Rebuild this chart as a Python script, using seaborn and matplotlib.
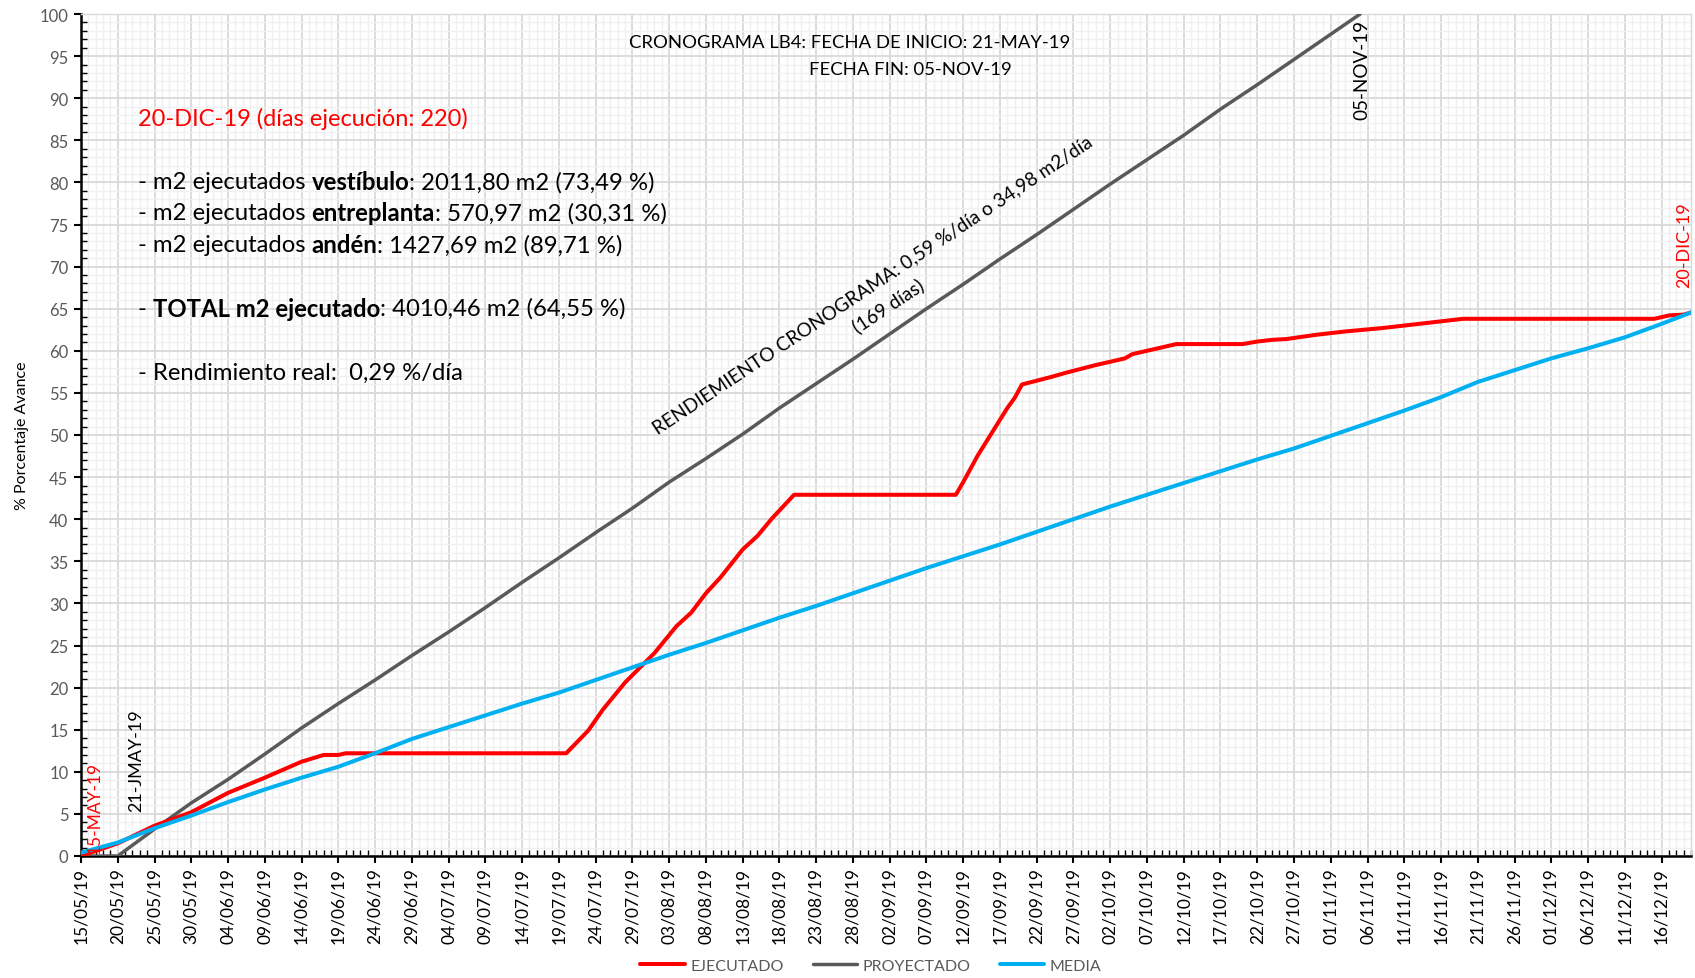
import matplotlib
matplotlib.use("Agg")
import numpy as np
import pandas as pd
import matplotlib.pyplot as plt
import matplotlib.dates as mdates
from matplotlib.lines import Line2D
from matplotlib.ticker import MultipleLocator
import seaborn as sns

# Fecha de referencia del eje (día 0)
inicio = pd.Timestamp("2019-05-15")
dias_totales = 219

# Avance ejecutado (% acumulado) por día desde el 15/05/19
dias_ejecutado = [0, 5, 10, 15, 20, 25, 30, 33, 35, 36, 66, 69, 71, 74, 78, 81, 83, 85, 87,
                  90, 92, 94, 97, 119, 120, 122, 123, 126, 127, 128, 132, 134, 138, 142, 143,
                  147, 149, 158, 160, 162, 164, 168, 172, 177, 181, 185, 188, 214, 216, 218, 219]
ejecutado = [0.0, 1.5, 3.6, 5.2, 7.5, 9.3, 11.2, 12.0, 12.0, 12.2, 12.2, 14.9, 17.4, 20.6, 24.1,
             27.3, 28.9, 31.2, 33.1, 36.4, 38.0, 40.1, 42.9, 42.9, 44.4, 47.6, 49.0, 53.2, 54.4,
             56.0, 56.9, 57.4, 58.3, 59.1, 59.6, 60.4, 60.8, 60.8, 61.1, 61.3, 61.4, 61.9, 62.3,
             62.7, 63.1, 63.5, 63.8, 63.8, 64.2, 64.3, 64.55]

# Avance proyectado según cronograma (21-MAY-19 a 05-NOV-19)
dias_proyectado = [0, 5, 10, 15, 20, 25, 30, 35, 40, 45, 50, 55, 60, 65, 70, 75, 80, 85, 90,
                   95, 100, 105, 110, 115, 120, 125, 130, 135, 140, 145, 150, 155, 160, 165,
                   170, 174]
proyectado = [0.0, 0.0, 3.2, 6.3, 9.1, 12.1, 15.2, 18.1, 20.9, 23.8, 26.6, 29.5, 32.5, 35.4,
              38.4, 41.3, 44.4, 47.2, 50.1, 53.2, 56.1, 59.0, 62.0, 65.0, 67.9, 70.9, 73.8,
              76.8, 79.8, 82.7, 85.6, 88.7, 91.6, 94.6, 97.6, 100.0]

# Rendimiento medio real
dias_media = [0, 5, 10, 15, 20, 25, 30, 35, 40, 45, 50, 55, 60, 65, 70, 75, 80, 85, 90, 95,
              100, 105, 110, 115, 120, 125, 130, 135, 140, 145, 150, 155, 160, 165, 170, 175,
              180, 185, 190, 195, 200, 205, 210, 215, 219]
media = [0.4, 1.6, 3.3, 4.8, 6.4, 7.9, 9.3, 10.6, 12.2, 13.9, 15.3, 16.7, 18.1, 19.4, 20.9,
         22.4, 23.9, 25.3, 26.8, 28.3, 29.7, 31.2, 32.7, 34.2, 35.6, 37.0, 38.5, 40.0, 41.5,
         42.9, 44.3, 45.7, 47.1, 48.4, 49.9, 51.4, 52.9, 54.5, 56.3, 57.7, 59.1, 60.3, 61.6,
         63.2, 64.55]

series = ["EJECUTADO", "PROYECTADO", "MEDIA"]
colores = {"EJECUTADO": "#ff0000", "PROYECTADO": "#595959", "MEDIA": "#00b0f0"}
grosores = {"EJECUTADO": 2.9, "PROYECTADO": 2.5, "MEDIA": 2.9}
datos = {"EJECUTADO": (dias_ejecutado, ejecutado),
         "PROYECTADO": (dias_proyectado, proyectado),
         "MEDIA": (dias_media, media)}

df = pd.concat([
    pd.DataFrame({"fecha": inicio + pd.to_timedelta(d, unit="D"), "avance": v, "serie": s})
    for s, (d, v) in datos.items()
], ignore_index=True)

sns.set_theme(style="white")
plt.rcParams["font.family"] = ["Lato", "DejaVu Sans"]

W, H = 1695, 979
fig = plt.figure(figsize=(W / 100, H / 100), dpi=100)
ax = fig.add_axes([81 / W, (H - 857) / H, 1610 / W, 842 / H])

for s in ["PROYECTADO", "EJECUTADO", "MEDIA"]:
    sns.lineplot(data=df[df["serie"] == s], x="fecha", y="avance", color=colores[s],
                 linewidth=grosores[s], estimator=None, ax=ax, legend=False,
                 solid_joinstyle="round", zorder=3)

# Ejes
ax.set_xlim(inicio, inicio + pd.Timedelta(days=dias_totales))
ax.set_ylim(0, 100)
ticks_x = [inicio + pd.Timedelta(days=d) for d in range(0, dias_totales, 5)]
ax.set_xticks(ticks_x)
ax.xaxis.set_major_formatter(mdates.DateFormatter("%d/%m/%y"))
ax.xaxis.set_minor_locator(MultipleLocator(1))
ax.set_yticks(range(0, 101, 5))
ax.yaxis.set_minor_locator(MultipleLocator(1))

ax.grid(which="major", color="#d9d9d9", linewidth=1.3)
ax.grid(which="minor", color="#f0f0f0", linewidth=1.0)
ax.set_axisbelow(True)

for lado in ["left", "bottom"]:
    ax.spines[lado].set_color("black")
    ax.spines[lado].set_linewidth(1.8)
for lado in ["top", "right"]:
    ax.spines[lado].set_color("#d9d9d9")
    ax.spines[lado].set_linewidth(1.0)

ax.tick_params(axis="both", which="major", direction="out", length=5, width=1.5,
               color="black", bottom=True, left=True)
ax.tick_params(axis="both", which="minor", direction="in", length=4, width=1.0,
               color="black", bottom=True, left=True)
ax.tick_params(axis="x", which="major", labelrotation=90, labelsize=12.5,
               labelcolor="black", pad=3)
ax.tick_params(axis="y", which="major", labelsize=12, labelcolor="#595959", pad=4)

ax.set_xlabel("")
ax.set_ylabel("% Porcentaje Avance", fontsize=11.5, color="black", labelpad=8)


def texto_mixto(x, y, partes, size, color="black"):
    t = ax.text(x, y, partes[0][0], transform=ax.transAxes, fontsize=size,
                fontweight=partes[0][1], color=color, va="center", ha="left")
    for s, w in partes[1:]:
        t = ax.annotate(s, xy=(1, 0.5), xycoords=t, va="center", ha="left",
                        fontsize=size, fontweight=w, color=color)


# Resumen de ejecución
ax.text(0.0354, 0.8765, "20-DIC-19 (días ejecución: 220)", transform=ax.transAxes,
        fontsize=17, color="#ff0000", va="center", ha="left")
texto_mixto(0.0354, 0.8005, [("- m2 ejecutados ", "normal"), ("vestíbulo", "bold"),
                             (": 2011,80 m2 (73,49 %)", "normal")], 17.2)
texto_mixto(0.0354, 0.7637, [("- m2 ejecutados ", "normal"), ("entreplanta", "bold"),
                             (": 570,97 m2 (30,31 %)", "normal")], 17.2)
texto_mixto(0.0354, 0.7257, [("- m2 ejecutados ", "normal"), ("andén", "bold"),
                             (": 1427,69 m2 (89,71 %)", "normal")], 17.2)
texto_mixto(0.0354, 0.6508, [("- ", "normal"), ("TOTAL m2 ejecutado", "bold"),
                             (": 4010,46 m2 (64,55 %)", "normal")], 17.2)
ax.text(0.0354, 0.5748, "- Rendimiento real:  0,29 %/día", transform=ax.transAxes,
        fontsize=17.2, color="black", va="center", ha="left")

# Cronograma
ax.text(0.4776, 0.9667, "CRONOGRAMA LB4: FECHA DE INICIO: 21-MAY-19", transform=ax.transAxes,
        fontsize=13.3, color="black", va="center", ha="center")
ax.text(0.5149, 0.9347, "FECHA FIN: 05-NOV-19", transform=ax.transAxes,
        fontsize=13.3, color="black", va="center", ha="center")
ax.text(0.4919, 0.6793, "RENDIEMIENTO CRONOGRAMA: 0,59 %/día o 34,98 m2/día",
        transform=ax.transAxes, fontsize=13.8, rotation=33.6, rotation_mode="anchor",
        va="center", ha="center", color="black")
ax.text(0.5012, 0.6544, "(169 días)", transform=ax.transAxes, fontsize=13.8, rotation=33.6,
        rotation_mode="anchor", va="center", ha="center", color="black")

# Marcas de fechas clave
ax.text(0.7957, 0.9347, "05-NOV-19", transform=ax.transAxes, fontsize=13.6, rotation=90,
        va="center", ha="center", color="black")
ax.text(0.9957, 0.7268, "20-DIC-19", transform=ax.transAxes, fontsize=13, rotation=90,
        va="center", ha="center", color="#ff0000")
ax.text(0.0087, 0.0582, "15-MAY-19", transform=ax.transAxes, fontsize=12.5, rotation=90,
        va="center", ha="center", color="#ff0000")
ax.text(0.0342, 0.114, "21-JMAY-19", transform=ax.transAxes, fontsize=13, rotation=90,
        va="center", ha="center", color="black")

# Leyenda
manejadores = [Line2D([0], [0], color=colores[s], lw=grosores[s]) for s in series]
fig.legend(manejadores, series, loc="center", bbox_to_anchor=(0.5138, 0.0123), ncol=3,
           frameon=False, handlelength=2.8, handletextpad=0.35, columnspacing=1.8,
           fontsize=11.5, labelcolor="#595959")

fig.savefig("out.png", dpi=100)
